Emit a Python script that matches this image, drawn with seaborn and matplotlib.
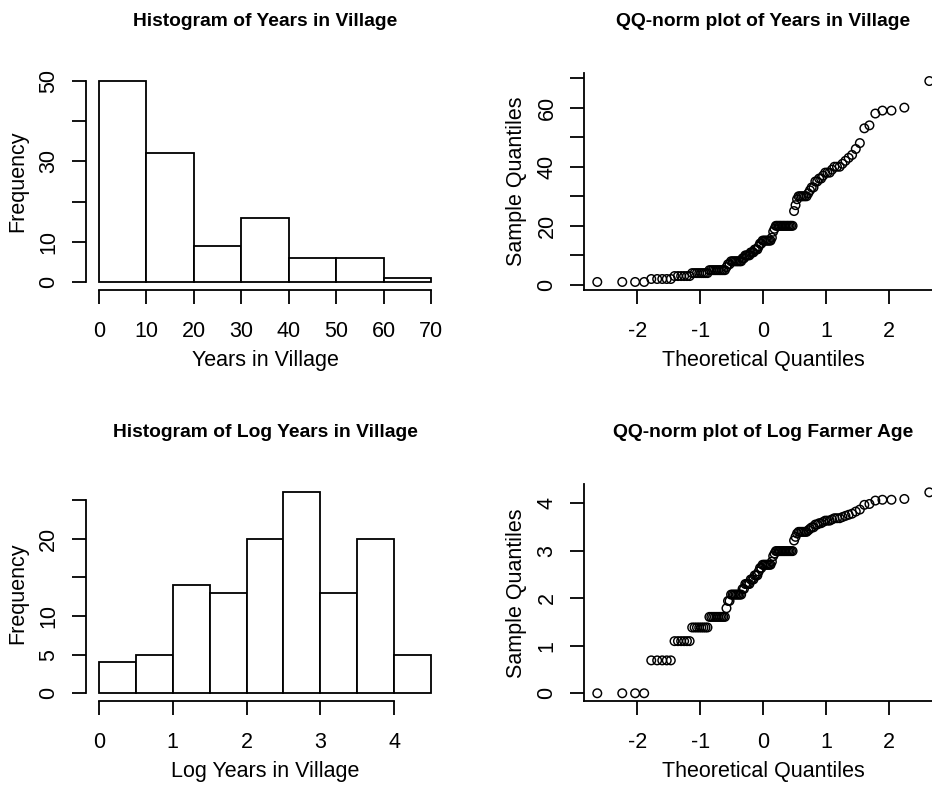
import numpy as np
import pandas as pd
import matplotlib
matplotlib.use("Agg")
import matplotlib.pyplot as plt
import seaborn as sns
from statistics import NormalDist

# ---- data (years in village, integer values and their counts) ----
years_values = [1, 2, 3, 4, 5, 6, 7, 8, 9, 10, 11, 12, 13, 14, 15, 16,
                18, 19, 20, 25, 27, 29, 30, 31, 32, 33,
                35, 36, 37, 38, 39, 40, 41, 42, 43, 44, 46, 48,
                53, 54, 58, 59, 60, 69]
years_counts = [4, 5, 6, 8, 10, 1, 2, 8, 2, 4, 3, 3, 1, 2, 7, 1,
                1, 1, 13, 1, 1, 1, 6, 1, 1, 2,
                2, 2, 1, 3, 1, 3, 1, 1, 1, 1, 1, 1,
                1, 1, 1, 2, 1, 1]

years_bins = [0, 10, 20, 30, 40, 50, 60, 70]
log_bins = [0, 0.5, 1.0, 1.5, 2.0, 2.5, 3.0, 3.5, 4.0, 4.5]

hist1_yticks = [0, 10, 20, 30, 40, 50]
hist1_ylabels = ["0", "10", "", "30", "", "50"]
hist2_yticks = [0, 5, 10, 15, 20, 25]
hist2_ylabels = ["0", "5", "10", "", "20", ""]
hist2_xticks = [0, 1, 2, 3, 4]
qq1_yticks = [0, 10, 20, 30, 40, 50, 60, 70]
qq1_ylabels = ["0", "", "20", "", "40", "", "60", ""]
qq2_yticks = [0, 1, 2, 3, 4]
qq_xticks = [-2, -1, 0, 1, 2]

titles = ["Histogram of Years in Village", "QQ-norm plot of Years in Village",
          "Histogram of Log Years in Village", "QQ-norm plot of Log Farmer Age"]

# ---- derived ----
years = np.repeat(np.array(years_values, dtype=float), years_counts)
log_years = np.log(years)
n = len(years)
theo = np.array([NormalDist().inv_cdf((i - 0.5) / n) for i in range(1, n + 1)])


def r_counts(x, edges):
    c = pd.cut(x, bins=edges, right=True, include_lowest=True)
    return pd.Series(c).value_counts(sort=False).values


def ext(lo, hi):
    d = (hi - lo) * 0.04
    return lo - d, hi + d


sns.set_style("white")
plt.rcParams["font.family"] = ["Liberation Sans", "DejaVu Sans"]
FS = 15.5
TFS = 13.9
LW = 1.3

W, H = 932, 785
fig = plt.figure(figsize=(W / 100, H / 100), dpi=100)
fig.patch.set_facecolor("white")


def add_ax(left, top, bottom, width=358.6):
    return fig.add_axes([left / W, 1 - bottom / H, width / W, (bottom - top) / H])


ax1 = add_ax(85.7, 73.0, 290.0)
ax2 = add_ax(584.0, 73.0, 290.0)
ax3 = add_ax(85.7, 484.3, 701.3)
ax4 = add_ax(584.0, 484.3, 701.3)


def style(ax):
    ax.set_facecolor("white")
    for s in ["top", "right"]:
        ax.spines[s].set_visible(False)
    for s in ["left", "bottom"]:
        ax.spines[s].set_color("black")
        ax.spines[s].set_linewidth(LW)
    ax.tick_params(axis="both", which="major", direction="out", length=10, width=LW,
                   color="black", labelsize=FS, labelcolor="black",
                   bottom=True, left=True, top=False, right=False)
    ax.tick_params(axis="x", pad=12)
    ax.tick_params(axis="y", pad=9, labelrotation=90)
    for lab in ax.get_yticklabels():
        lab.set_va("center")
        lab.set_ha("right")


def hist(ax, data, edges, yticks, ylabels, xticks, title, xlabel):
    counts = r_counts(data, edges)
    mids = [(edges[i] + edges[i + 1]) / 2 for i in range(len(edges) - 1)]
    sns.histplot(x=mids, weights=counts, bins=edges, ax=ax, color="white",
                 edgecolor="black", linewidth=1.3, alpha=1.0)
    ax.set_xlim(*ext(edges[0], edges[-1]))
    ax.set_ylim(*ext(0, max(counts)))
    ax.set_xticks(xticks)
    ax.set_xticklabels([f"{t:g}" for t in xticks])
    ax.set_yticks(yticks)
    ax.set_yticklabels(ylabels)
    style(ax)
    ax.spines["left"].set_bounds(yticks[0], yticks[-1])
    ax.spines["bottom"].set_bounds(xticks[0], xticks[-1])
    ax.set_xlabel(xlabel, fontsize=FS, color="black", labelpad=6)
    ax.set_ylabel("Frequency", fontsize=FS, color="black", labelpad=7)
    ax.set_title(title, fontsize=TFS, fontweight="bold", pad=34, color="black")


def qq(ax, data, yticks, ylabels, title):
    sy = np.sort(data)
    sns.scatterplot(x=theo, y=sy, ax=ax, marker="o", s=38, linewidth=1.05,
                    facecolor="none", edgecolor="black")
    coll = ax.collections[-1]
    coll.set_facecolor("none")
    coll.set_edgecolor("black")
    ax.set_xlim(*ext(theo.min(), theo.max()))
    ax.set_ylim(*ext(sy.min(), sy.max()))
    ax.set_xticks(qq_xticks)
    ax.set_xticklabels([f"{t:g}" for t in qq_xticks])
    ax.set_yticks(yticks)
    ax.set_yticklabels(ylabels)
    style(ax)
    ax.set_xlabel("Theoretical Quantiles", fontsize=FS, color="black", labelpad=6)
    ax.set_ylabel("Sample Quantiles", fontsize=FS, color="black", labelpad=7)
    ax.set_title(title, fontsize=TFS, fontweight="bold", pad=34, color="black")


hist(ax1, years, years_bins, hist1_yticks, hist1_ylabels, years_bins, titles[0], "Years in Village")
qq(ax2, years, qq1_yticks, qq1_ylabels, titles[1])
hist(ax3, log_years, log_bins, hist2_yticks, hist2_ylabels, hist2_xticks, titles[2], "Log Years in Village")
qq(ax4, log_years, qq2_yticks, [f"{t:g}" for t in qq2_yticks], titles[3])

fig.savefig("out.png", dpi=100, facecolor="white")
